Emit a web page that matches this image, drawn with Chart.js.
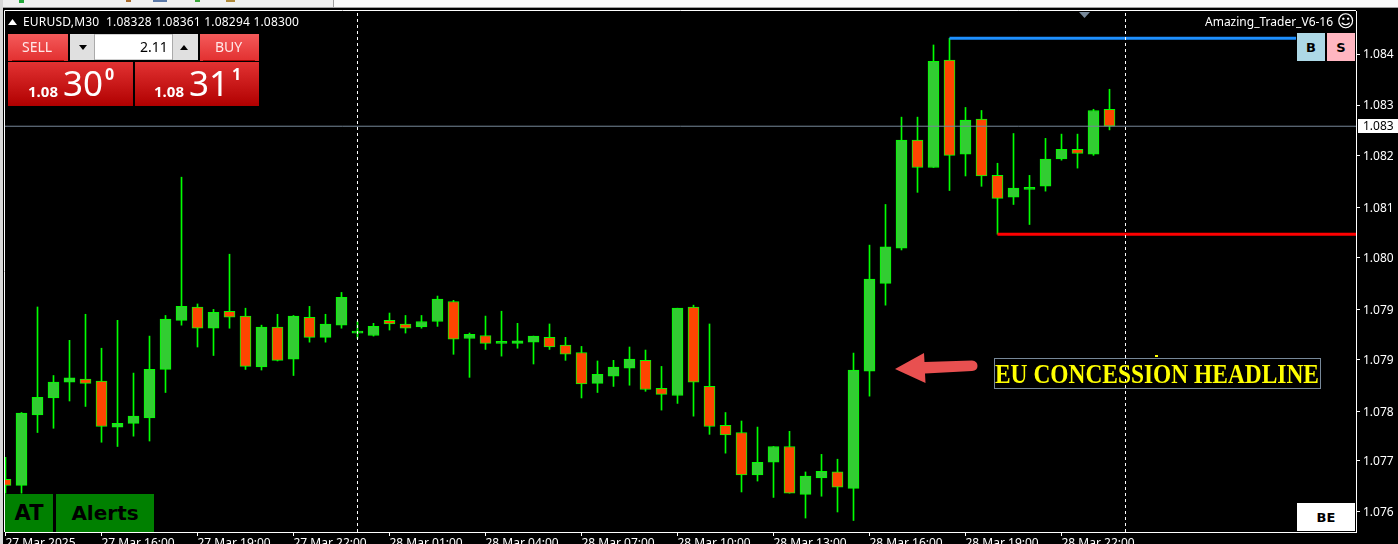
<!DOCTYPE html>
<html>
<head>
<meta charset="utf-8">
<title>EURUSD,M30</title>
<script src="https://cdn.jsdelivr.net/npm/chart.js@4"></script>
<style>
    html, body { margin: 0; padding: 0; background: #000; overflow: hidden; }
    #wrap { position: relative; width: 1398px; height: 544px; overflow: hidden; font-family: "Noto Sans", sans-serif; color: #fff; }
    #chart { position: absolute; left: 0; top: 0; }
    .box { position: absolute; box-sizing: border-box; white-space: nowrap; }
    .txt { position: absolute; white-space: nowrap; line-height: 1; }
    .big { font-family: "DejaVu Sans", sans-serif; font-weight: bold; color: #000; display: flex; align-items: center; justify-content: center; }
    #overlay { position: absolute; left: 0; top: 0; }
</style>
</head>
<body>
<div id="wrap">
    <canvas id="chart" width="1398" height="544"></canvas>

    <!-- platform chrome above the chart -->
    <div class="box" style="left:0;top:0;width:1398px;height:8px;background:#f0f0f0;border-bottom:1px solid #a0a0a0"></div>
    <div class="box" style="left:0;top:0;width:3px;height:544px;background:#d8d8d8"></div>
    <div class="box" style="left:19px;top:0;width:5px;height:3px;background:#22a83a"></div>
    <div class="box" style="left:126px;top:0;width:5px;height:2px;background:#a86a2a"></div>
    <div class="box" style="left:153px;top:0;width:14px;height:2px;background:#5a78a8"></div>
    <div class="box" style="left:195px;top:0;width:5px;height:2px;background:#3aa83a"></div>
    <div class="box" style="left:226px;top:0;width:9px;height:2px;background:#b08a3a"></div>
    <div class="box" style="left:333px;top:0;width:1065px;height:7px;background:#fafafa;border-left:1px solid #a0a0a0"></div>

    <!-- heading line -->
    <svg class="box" style="left:8px;top:19px" width="9" height="6"><polygon points="0,6 4.5,0 9,6" fill="#fff"/></svg>
    <div class="txt" style="left:23px;top:16px;font-size:12px;letter-spacing:0.2px">EURUSD,M30&nbsp; 1.08328 1.08361 1.08294 1.08300</div>
    <div class="txt" style="left:1205px;top:16px;font-size:12px">Amazing_Trader_V6-16</div>
    <div class="txt" style="left:1337px;top:13px;font-size:17px;font-family:'DejaVu Sans'">☺</div>

    <!-- trade panel -->
    <div class="box" style="left:8px;top:34px;width:60px;height:27px;background:linear-gradient(#f45a5a,#e23030)">
        <div class="txt" style="left:14px;top:6px;font-size:14px;color:#ffe8e8">SELL</div>
        <div class="box" style="left:4px;top:26px;width:52px;height:1px;background:#a00"></div>
    </div>
    <div class="box" style="left:70px;top:34px;width:128px;height:26px;background:#fff;border:1px solid #d0d0d0"></div>
    <div class="box" style="left:70px;top:34px;width:25px;height:26px;background:#e0e0e0;border-right:1px solid #aaa"></div>
    <svg class="box" style="left:79px;top:45px" width="8" height="5"><polygon points="0,0 8,0 4,5" fill="#000"/></svg>
    <div class="txt" style="left:140px;top:40px;font-size:14px;color:#000">2.11</div>
    <div class="box" style="left:172px;top:34px;width:26px;height:26px;background:#e0e0e0;border-left:1px solid #aaa"></div>
    <svg class="box" style="left:180px;top:45px" width="8" height="5"><polygon points="0,5 8,5 4,0" fill="#000"/></svg>
    <div class="box" style="left:200px;top:34px;width:59px;height:27px;background:linear-gradient(#f45a5a,#e23030)">
        <div class="txt" style="left:15px;top:6px;font-size:14px;color:#ffe8e8">BUY</div>
        <div class="box" style="left:3px;top:26px;width:52px;height:1px;background:#a00"></div>
    </div>
    <div class="box" style="left:8px;top:62px;width:125px;height:44px;background:linear-gradient(#e23232,#b00000)">
        <div class="txt" style="left:20px;top:22px;font-size:15px;font-weight:bold">1.08</div>
        <div class="txt" style="left:55px;top:3px;font-size:35px">30</div>
        <div class="txt" style="left:97px;top:4px;font-size:16px;font-weight:bold">0</div>
    </div>
    <div class="box" style="left:135px;top:62px;width:124px;height:44px;background:linear-gradient(#e23232,#b00000)">
        <div class="txt" style="left:19px;top:22px;font-size:15px;font-weight:bold">1.08</div>
        <div class="txt" style="left:54px;top:3px;font-size:35px">31</div>
        <div class="txt" style="left:97px;top:4px;font-size:16px;font-weight:bold">1</div>
    </div>

    <!-- buttons -->
    <div class="box big" style="left:5px;top:494px;width:48px;height:38px;background:#008000;font-size:21px">AT</div>
    <div class="box big" style="left:56px;top:494px;width:98px;height:38px;background:#008000;font-size:20px">Alerts</div>
    <div class="box big" style="left:1297px;top:33px;width:28px;height:28px;background:#add8e6;font-size:13px">B</div>
    <div class="box big" style="left:1327px;top:33px;width:28px;height:28px;background:#ffb6c1;font-size:13px">S</div>
    <div class="box big" style="left:1297px;top:503px;width:58px;height:28px;background:#fff;font-size:13px">BE</div>
    <div class="box" style="left:1358px;top:119px;width:40px;height:14px;background:#fff"></div>
    <div class="txt" style="left:1363px;top:120px;font-size:12px;color:#000">1.083</div>

    <!-- drawn objects on the chart -->
    <svg id="overlay" width="1398" height="544">
        <polygon points="1079,12 1090,12 1084.5,18" fill="#778899"/>
        <path d="M895,369 L924,353 L924.5,362 L972,360.5 Q977.5,361 977.5,366 Q977.5,370.5 972,371 L925,373.5 L925.5,383 Z" fill="#e85050"/>
        <rect x="994.5" y="358.5" width="326" height="30" fill="none" stroke="#778899"/>
        <rect x="1155" y="355" width="3" height="2" fill="#ffff00"/>
        <text x="995" y="383" font-family="Liberation Serif" font-weight="bold" font-size="27" fill="#ffff00" textLength="324" lengthAdjust="spacingAndGlyphs">EU CONCESSION HEADLINE</text>
    </svg>
</div>

<script>
    const timeLabels = ['27 Mar 2025', '27 Mar 16:00', '27 Mar 19:00', '27 Mar 22:00', '28 Mar 01:00', '28 Mar 04:00',
        '28 Mar 07:00', '28 Mar 10:00', '28 Mar 13:00', '28 Mar 16:00', '28 Mar 19:00', '28 Mar 22:00'];
    const timeTickBars = [0, 6, 12, 18, 24, 30, 36, 42, 48, 54, 60, 66];

    const priceTicks = [1.08419, 1.08335, 1.08251, 1.08166, 1.08084, 1.07998, 1.07916, 1.07830, 1.07749, 1.07665];
    const priceLabels = ['1.084', '1.083', '1.082', '1.081', '1.080', '1.079', '1.079', '1.078', '1.077', '1.076'];

    const opens = [1.07718, 1.07708, 1.07824, 1.07852, 1.07878, 1.07883, 1.07880, 1.07804, 1.07810, 1.07819,
        1.07899, 1.07980, 1.08002, 1.07967, 1.07995, 1.07987, 1.07903, 1.07969, 1.07916, 1.07985,
        1.07952, 1.07972, 1.07959, 1.07955, 1.07980, 1.07974, 1.07969, 1.07978, 1.08011, 1.07950,
        1.07955, 1.07942, 1.07942, 1.07944, 1.07952, 1.07939, 1.07927, 1.07876, 1.07888, 1.07901,
        1.07914, 1.07868, 1.07856, 1.08002, 1.07871, 1.07807, 1.07795, 1.07725, 1.07746, 1.07772,
        1.07693, 1.07720, 1.07730, 1.07703, 1.07896, 1.08041, 1.08099, 1.08277, 1.08232, 1.08409,
        1.08254, 1.08312, 1.08219, 1.08183, 1.08196, 1.08201, 1.08246, 1.08262, 1.08254, 1.08328];
    const highs = [1.07754, 1.07828, 1.08002, 1.07889, 1.07947, 1.07990, 1.07934, 1.07980, 1.07893, 1.07954,
        1.07988, 1.08216, 1.08007, 1.07998, 1.08089, 1.08000, 1.07972, 1.07990, 1.07988, 1.08003,
        1.07990, 1.08026, 1.07978, 1.07975, 1.07992, 1.07988, 1.07988, 1.08020, 1.08013, 1.07959,
        1.07987, 1.07995, 1.07975, 1.07954, 1.07974, 1.07952, 1.07937, 1.07913, 1.07914, 1.07936,
        1.07931, 1.07904, 1.08000, 1.08005, 1.07974, 1.07828, 1.07814, 1.07804, 1.07772, 1.07797,
        1.07730, 1.07759, 1.07751, 1.07926, 1.08104, 1.08171, 1.08315, 1.08315, 1.08434, 1.08445,
        1.08331, 1.08326, 1.08239, 1.08288, 1.08219, 1.08280, 1.08287, 1.08287, 1.08328, 1.08361];
    const lows = [1.07695, 1.07695, 1.07795, 1.07802, 1.07847, 1.07838, 1.07779, 1.07772, 1.07789, 1.07781,
        1.07861, 1.07972, 1.07936, 1.07922, 1.07967, 1.07899, 1.07898, 1.07913, 1.07889, 1.07944,
        1.07944, 1.07967, 1.07950, 1.07954, 1.07964, 1.07959, 1.07967, 1.07970, 1.07924, 1.07886,
        1.07932, 1.07921, 1.07934, 1.07908, 1.07932, 1.07914, 1.07852, 1.07861, 1.07871, 1.07873,
        1.07863, 1.07832, 1.07843, 1.07822, 1.07792, 1.07761, 1.07697, 1.07715, 1.07688, 1.07695,
        1.07654, 1.07690, 1.07664, 1.07650, 1.07855, 1.08005, 1.08096, 1.08191, 1.08232, 1.08194,
        1.08218, 1.08201, 1.08122, 1.08171, 1.08138, 1.08193, 1.08244, 1.08231, 1.08252, 1.08294];
    const closes = [1.07708, 1.07827, 1.07853, 1.07878, 1.07885, 1.07876, 1.07805, 1.07810, 1.07822, 1.07899,
        1.07982, 1.08003, 1.07967, 1.07993, 1.07985, 1.07904, 1.07969, 1.07914, 1.07987, 1.07952,
        1.07974, 1.08018, 1.07962, 1.07970, 1.07974, 1.07967, 1.07978, 1.08015, 1.07949, 1.07957,
        1.07942, 1.07944, 1.07946, 1.07954, 1.07936, 1.07924, 1.07875, 1.07891, 1.07903, 1.07916,
        1.07866, 1.07858, 1.08000, 1.07878, 1.07805, 1.07791, 1.07725, 1.07746, 1.07772, 1.07695,
        1.07723, 1.07731, 1.07705, 1.07898, 1.08048, 1.08101, 1.08277, 1.08232, 1.08407, 1.08252,
        1.08310, 1.08218, 1.08181, 1.08198, 1.08199, 1.08246, 1.08262, 1.08255, 1.08326, 1.08300];

    // drawn levels, [first bar, last bar, price]
    const highLevel = [59, 80.66, 1.08445];
    const lowLevel = [62, 84.5, 1.08122];
    const bidLevel = [-1, 85, 1.08300];
    const separatorBars = [22, 70];

    const priceMin = 1.07631;
    const priceMax = 1.08490;

    const bars = opens.map((o, i) => i);
    const wickData = bars.map(i => ({ x: i, y: [lows[i], highs[i]] }));
    const bodyData = bars.map(i => ({ x: i, y: [opens[i], closes[i]] }));
    const bodyColors = bars.map(i => closes[i] >= opens[i] ? '#32cd32' : '#ff4500');

    function levelLine(level, color, width) {
        return {
            type: 'line',
            data: [{ x: level[0], y: level[2] }, { x: level[1], y: level[2] }],
            borderColor: color,
            borderWidth: width,
            pointRadius: 0
        };
    }

    function separatorLine(bar) {
        return {
            type: 'line',
            data: [{ x: bar, y: priceMin }, { x: bar, y: priceMax }],
            borderColor: '#ffffff',
            borderWidth: 1,
            borderDash: [3, 3],
            pointRadius: 0
        };
    }

    // frame round the plot, left and top (right and bottom come from the axes)
    const framePlugin = {
        id: 'frame',
        afterDraw(chart) {
            const ctx = chart.ctx;
            const a = chart.chartArea;
            ctx.save();
            ctx.strokeStyle = '#ffffff';
            ctx.lineWidth = 1;
            ctx.beginPath();
            ctx.moveTo(a.left - 0.5, a.bottom);
            ctx.lineTo(a.left - 0.5, a.top - 0.5);
            ctx.lineTo(a.right, a.top - 0.5);
            ctx.stroke();
            ctx.restore();
        }
    };

    new Chart(document.getElementById('chart'), {
        type: 'bar',
        plugins: [framePlugin],
        data: {
            datasets: [
                separatorLine(separatorBars[0]),
                separatorLine(separatorBars[1]),
                levelLine(bidLevel, '#778899', 1),
                { data: wickData, backgroundColor: '#00ff00', barThickness: 1, grouped: false, order: 2 },
                { data: bodyData, backgroundColor: bodyColors, borderColor: '#00ff00', borderWidth: 1, borderSkipped: false, barThickness: 11, minBarLength: 2, grouped: false, order: 1 },
                levelLine(highLevel, '#1e90ff', 3),
                levelLine(lowLevel, '#ff0000', 3)
            ]
        },
        options: {
            responsive: false,
            animation: false,
            layout: { padding: { left: 5, top: 11, right: 0, bottom: 0 } },
            plugins: { legend: { display: false }, tooltip: { enabled: false } },
            scales: {
                x: {
                    type: 'linear',
                    offset: false,
                    min: -0.03125,
                    max: 84.40625,
                    afterFit(scale) { scale.height = 12; },
                    afterBuildTicks(scale) { scale.ticks = timeTickBars.map(v => ({ value: v })); },
                    grid: { offset: false, drawOnChartArea: false, color: '#ffffff', tickLength: 4 },
                    border: { color: '#ffffff' },
                    ticks: {
                        color: '#ffffff',
                        font: { family: 'Noto Sans', size: 12 },
                        align: 'start',
                        padding: 0,
                        maxRotation: 0,
                        autoSkip: false,
                        callback(value) { return timeLabels[timeTickBars.indexOf(value)]; }
                    }
                },
                y: {
                    position: 'right',
                    min: priceMin,
                    max: priceMax,
                    afterFit(scale) { scale.width = 42; },
                    afterBuildTicks(scale) { scale.ticks = priceTicks.map(v => ({ value: v })); },
                    grid: { drawOnChartArea: false, color: '#ffffff', tickLength: 4 },
                    border: { color: '#ffffff' },
                    ticks: {
                        color: '#ffffff',
                        font: { family: 'Noto Sans', size: 12 },
                        padding: 3,
                        labelOffset: 1,
                        callback(value) { return priceLabels[priceTicks.indexOf(value)]; }
                    }
                }
            }
        }
    });
</script>
</body>
</html>
